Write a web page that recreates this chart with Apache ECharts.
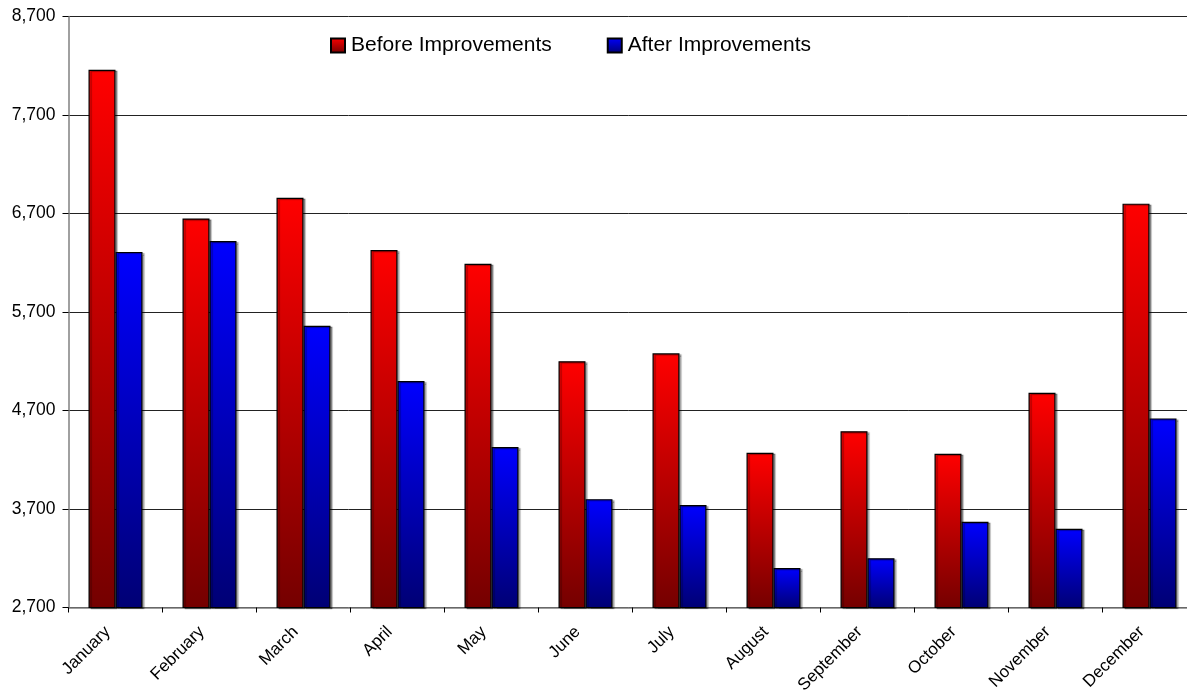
<!DOCTYPE html>
<html>
<head>
<meta charset="utf-8">
<script src="https://cdn.jsdelivr.net/npm/echarts@6/dist/echarts.min.js"></script>
<style>
html,body{margin:0;padding:0;background:#fff;overflow:hidden;}
#chart{width:1187px;height:698px;}
</style>
</head>
<body>
<div id="chart"></div>
<script>
const categories = ['January','February','March','April','May','June','July','August','September','October','November','December'];
const beforeValues = [8160, 6650, 6860, 6330, 6190, 5200, 5280, 4270, 4490, 4260, 4880, 6800];
const afterValues  = [6310, 6420, 5560, 5000, 4330, 3800, 3740, 3100, 3200, 3570, 3500, 4620];
const seriesNames = ['Before Improvements', 'After Improvements'];
const yMin = 2700, yMax = 8700, yStep = 1000;

const font = 'Liberation Sans, Arial, sans-serif';
function grad(top, bottom) {
  return new echarts.graphic.LinearGradient(0, 0, 0, 1, [
    {offset: 0, color: top}, {offset: 1, color: bottom}
  ]);
}
const chart = echarts.init(document.getElementById('chart'), null, {renderer: 'canvas'});
chart.setOption({
  animation: false,
  backgroundColor: '#ffffff',
  textStyle: {fontFamily: font},
  grid: {left: 68.5, width: 1128, top: 16.5, bottom: 90.5, containLabel: false, outerBoundsMode: 'none'},
  legend: {
    left: 325, top: 30,
    itemWidth: 14, itemHeight: 14, itemGap: 55,
    textStyle: {fontSize: 21, color: '#000', fontFamily: font, padding: [0, 0, 0, 1]},
    data: seriesNames.map(n => ({name: n, icon: 'rect'}))
  },
  xAxis: {
    type: 'category',
    data: categories,
    axisLine: {lineStyle: {color: '#808080', width: 1.5}},
    axisTick: {show: true, length: 5, lineStyle: {color: '#000'}},
    axisLabel: {rotate: 45, fontSize: 17, color: '#000', margin: 14, fontFamily: font,
      padding: [0, 11, 0, 0]}
  },
  yAxis: {
    type: 'value',
    min: yMin, max: yMax, interval: yStep,
    axisLine: {show: true, lineStyle: {color: '#808080', width: 1.5}},
    axisTick: {show: true, length: 6, lineStyle: {color: '#000'}},
    splitLine: {show: true, lineStyle: {color: '#222', width: 1}},
    axisLabel: {fontSize: 17.5, color: '#000', margin: 13, fontFamily: font,
      formatter: v => v.toLocaleString('en-US')}
  },
  series: [
    {
      name: seriesNames[0], type: 'bar', data: beforeValues,
      barWidth: 27, barGap: '0%',
      itemStyle: {color: grad('#ff0000', '#740000'), borderColor: '#000', borderWidth: 1.2,
        shadowColor: 'rgba(0,0,0,0.35)', shadowOffsetX: 2, shadowOffsetY: 1, shadowBlur: 1}
    },
    {
      name: seriesNames[1], type: 'bar', data: afterValues,
      barWidth: 27, barGap: '0%',
      itemStyle: {color: grad('#0000ff', '#000074'), borderColor: '#000', borderWidth: 1.2,
        shadowColor: 'rgba(0,0,0,0.35)', shadowOffsetX: 2, shadowOffsetY: 1, shadowBlur: 1}
    }
  ]
});
</script>
</body>
</html>
